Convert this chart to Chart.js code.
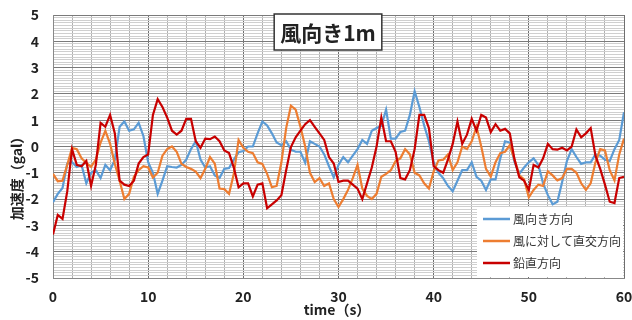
<!DOCTYPE html>
<html>
<head>
<meta charset="utf-8">
<script src="https://cdn.jsdelivr.net/npm/chart.js@4.4.1/dist/chart.umd.min.js"></script>
<style>
html,body{margin:0;padding:0;background:#fff;}
canvas{display:block;}
</style>
</head>
<body>
<canvas id="c" width="632" height="320"></canvas>
<script>
// ---- data (sampled every 0.5 s, 0..60 s) ----
const STEP = 0.5;
const seriesNames = ['風向き方向', '風に対して直交方向', '鉛直方向'];
const chartTitle = '風向き1m';
const xTitle = 'time（s）';
const yTitle = '加速度（gal）';
const xTickLabels = [0, 10, 20, 30, 40, 50, 60];
const yTickLabels = [-5, -4, -3, -2, -1, 0, 1, 2, 3, 4, 5];

const windDir = [
 -2.12,-1.8,-1.58,-0.65,-0.6,-0.78,-0.7,-1.4,-1.0,-0.9,
 -1.2,-0.7,-0.9,-0.5,0.75,0.95,0.6,0.65,0.9,0.4,
 -0.6,-1.0,-1.8,-1.3,-0.75,-0.78,-0.8,-0.7,-0.5,-0.1,
 0.2,-0.5,-0.8,-0.75,-1.1,-1.2,-0.85,-0.82,-0.5,-0.22,
 -0.17,0.0,0.0,0.5,0.95,0.8,0.5,0.15,0.05,0.2,
 -0.12,-0.2,-0.2,-0.62,0.2,0.1,0.0,-0.3,-0.75,-1.17,
 -0.7,-0.4,-0.6,-0.35,-0.1,0.25,0.1,0.6,0.7,0.78,
 1.4,0.3,0.3,0.55,0.6,1.2,2.1,1.5,0.8,0.2,
 -0.6,-1.0,-1.2,-1.5,-1.7,-1.3,-0.9,-0.9,-0.6,-1.15,
 -1.3,-1.65,-1.25,-1.25,-0.45,0.2,0.15,-0.6,-1.04,-0.8,
 -0.6,-0.45,-0.7,-1.4,-1.85,-2.2,-2.1,-1.35,-0.55,-0.1,
 -0.4,-0.66,-0.6,-0.6,-0.3,-0.35,-0.5,-0.55,-0.1,0.25,
 1.3
];
const crossDir = [
 -1.04,-1.32,-1.3,-0.7,-0.05,-0.1,-0.45,-0.62,-0.77,-0.5,
 0.15,0.6,0.1,-0.66,-1.3,-2.0,-1.8,-1.15,-0.9,-0.75,
 -0.8,-1.18,-1.0,-0.35,-0.1,0.0,-0.2,-0.66,-0.78,-0.85,
 -0.95,-1.2,-0.85,-0.4,-0.65,-1.6,-1.62,-1.8,-1.04,0.25,
 -0.05,-0.2,-0.25,-0.6,-0.66,-1.04,-1.55,-1.5,-0.6,0.7,
 1.55,1.4,0.75,0.0,-1.0,-1.35,-1.2,-1.5,-1.4,-2.0,
 -2.3,-2.0,-1.65,-1.2,-0.7,-1.6,-1.88,-2.0,-1.8,-1.15,
 -1.04,-0.9,-0.55,-0.45,-0.1,-0.3,-1.0,-1.1,-1.4,-1.6,
 -0.95,-0.53,-0.5,-0.3,-0.9,-0.6,0.0,-0.1,0.2,0.75,
 0.0,-0.85,-1.15,-0.6,-0.25,-0.2,0.05,-0.5,-1.1,-1.25,
 -1.93,-1.65,-1.45,-1.5,-0.95,-1.1,-1.29,-1.2,-0.85,-0.85,
 -1.0,-1.4,-1.65,-1.4,-0.6,-0.1,-0.15,-0.9,-1.29,-0.3,
 0.3
];
const vertical = [
 -3.35,-2.6,-2.75,-1.7,-0.1,-0.7,-0.75,-0.55,-1.5,-0.7,
 0.9,0.75,1.2,0.5,-1.3,-1.45,-1.5,-1.3,-0.65,-0.4,
 -0.3,1.2,1.8,1.5,1.1,0.6,0.45,0.6,1.05,1.05,
 0.2,-0.05,0.3,0.28,0.38,0.2,-0.15,-0.25,-0.8,-1.55,
 -1.4,-1.4,-1.9,-1.45,-1.4,-2.35,-2.2,-2.05,-1.85,-0.9,
 -0.02,0.35,0.6,0.85,1.0,0.75,0.5,0.25,-0.4,-0.65,
 -1.35,-1.3,-1.3,-1.45,-1.6,-2.0,-1.4,-0.8,0.0,1.1,
 0.2,0.2,-0.2,-1.2,-1.25,-0.9,-0.1,1.2,1.2,0.7,
 -0.75,-0.9,-1.0,-0.5,0.1,0.95,0.1,0.45,1.05,0.6,
 1.2,1.1,0.55,0.85,0.6,0.67,0.5,-0.5,-1.17,-1.3,
 -1.65,-0.7,-0.8,-0.45,0.1,-0.1,-0.12,-0.05,-0.15,0.0,
 0.65,0.35,0.5,0.7,-0.35,-0.85,-1.45,-2.1,-2.15,-1.2,
 -1.15
];

const toPoints = arr => arr.map((v, i) => ({x: i * STEP, y: v}));
const FONT = "'Noto Sans CJK JP', 'Noto Sans', sans-serif";
const isInt = v => Math.abs(v - Math.round(v)) < 1e-6;

const overlay = {
  id: 'overlay',
  afterDatasetsDraw(chart) {
    const ctx = chart.ctx;
    const a = chart.chartArea;
    ctx.save();
    // title box
    ctx.font = 'bold 21px ' + FONT;
    const tw = ctx.measureText(chartTitle).width;
    const cx = 328, cy = 32;
    const bw = tw + 12, bh = 36;
    ctx.fillStyle = '#fff';
    ctx.fillRect(cx - bw / 2, cy - bh / 2, bw, bh);
    ctx.strokeStyle = '#333';
    ctx.lineWidth = 1.5;
    ctx.strokeRect(cx - bw / 2, cy - bh / 2, bw, bh);
    ctx.fillStyle = '#222';
    ctx.textAlign = 'center';
    ctx.textBaseline = 'middle';
    ctx.fillText(chartTitle, cx, cy + 1);

    // legend box
    const lx = 477, ly = 207;
    ctx.fillStyle = '#fff';
    ctx.fillRect(lx, ly, a.right - lx - 1, a.bottom - ly - 1);
    ctx.font = '12px ' + FONT;
    ctx.textAlign = 'left';
    ctx.textBaseline = 'middle';
    const rows = [219, 241, 263];
    chart.data.datasets.forEach((ds, i) => {
      const y = rows[i];
      ctx.strokeStyle = ds.borderColor;
      ctx.lineWidth = 2.5;
      ctx.beginPath();
      ctx.moveTo(483, y);
      ctx.lineTo(510, y);
      ctx.stroke();
      ctx.fillStyle = '#333';
      ctx.fillText(ds.label, 513, y);
    });

    // axis titles
    ctx.fillStyle = '#222';
    ctx.font = 'bold 14px ' + FONT;
    ctx.textAlign = 'center';
    ctx.textBaseline = 'middle';
    ctx.fillText(xTitle, 337, 310);
    ctx.translate(17, 175);
    ctx.rotate(-Math.PI / 2);
    ctx.fillText(yTitle, 0, 0);
    ctx.restore();
  }
};

new Chart(document.getElementById('c'), {
  type: 'line',
  data: {
    datasets: [
      {label: seriesNames[0], data: toPoints(windDir), borderColor: '#5B9BD5', order: 2},
      {label: seriesNames[1], data: toPoints(crossDir), borderColor: '#ED7D31', order: 1},
      {label: seriesNames[2], data: toPoints(vertical), borderColor: '#C80000', order: 0}
    ].map(d => Object.assign(d, {borderWidth: 2.2, pointRadius: 0, tension: 0, fill: false}))
  },
  options: {
    responsive: false,
    animation: false,
    devicePixelRatio: 1,
    layout: {padding: {top: 15, right: 8, left: 0, bottom: 0}},
    plugins: {legend: {display: false}, title: {display: false}, tooltip: {enabled: false}},
    scales: {
      x: {
        type: 'linear', min: 0, max: 60,
        afterFit(s) { s.height = 42; s.paddingLeft = 0; s.paddingRight = 0; },
        ticks: {
          stepSize: 2, autoSkip: false, maxRotation: 0, padding: 10,
          color: '#222', font: {family: FONT, size: 14, weight: 'bold'},
          callback: v => xTickLabels.includes(v) ? String(v) : ''
        },
        grid: {
          drawTicks: false,
          color: c => (c.tick && c.tick.value % 10 === 0) ? '#6e6e6e' : '#b0b0b0',
          lineWidth: 1
        },
        border: {color: '#888', width: 1}
      },
      y: {
        min: -5, max: 5,
        afterFit(s) { s.width = 53; s.paddingTop = 0; s.paddingBottom = 0; },
        ticks: {
          stepSize: 0.1, autoSkip: false, maxTicksLimit: 1000, padding: 14,
          color: '#222', font: {family: FONT, size: 14, weight: 'bold'},
          callback: v => (isInt(v) && yTickLabels.includes(Math.round(v))) ? String(Math.round(v)) : ''
        },
        grid: {
          drawTicks: false,
          color: c => (c.tick && isInt(c.tick.value)) ? '#7a7a7a' : '#cfcfcf',
          lineWidth: 1
        },
        border: {color: '#888', width: 1}
      }
    }
  },
  plugins: [overlay]
});
</script>
</body>
</html>
